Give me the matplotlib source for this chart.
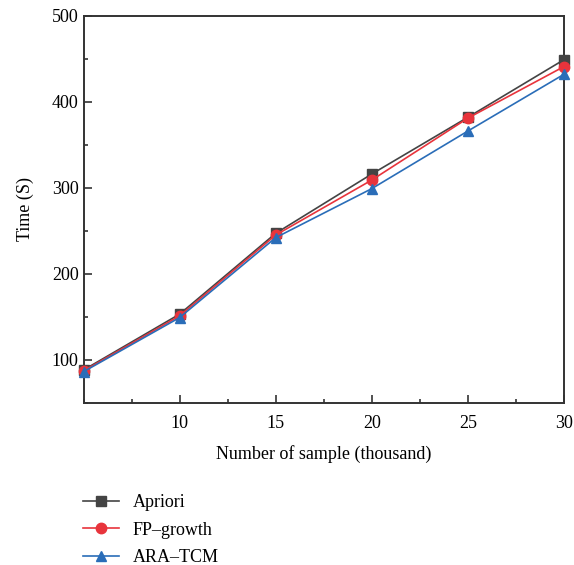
import matplotlib
matplotlib.use("Agg")
import matplotlib.pyplot as plt
from matplotlib.ticker import MultipleLocator

samples = [5, 10, 15, 20, 25, 30]
apriori = [88, 153, 247, 316, 382, 449]
fp_growth = [87, 151, 245, 309, 381, 441]
ara_tcm = [86, 149, 242, 299, 366, 432]

plt.rcParams['font.family'] = ['Liberation Serif', 'DejaVu Serif']
plt.rcParams['font.size'] = 13

fig = plt.figure(figsize=(5.74, 5.65), dpi=100)
ax = fig.add_axes([0.1455, 0.2873, 0.8371, 0.6847])

ax.plot(samples, apriori, color='#444444', marker='s', markersize=6.5, lw=1.2,
        label='Apriori', clip_on=False, zorder=3)
ax.plot(samples, fp_growth, color='#e8343c', marker='o', markersize=7.5, lw=1.2,
        label='FP\u2013growth', clip_on=False, zorder=4)
ax.plot(samples, ara_tcm, color='#2a6db8', marker='^', markersize=7.5, lw=1.2,
        label='ARA\u2013TCM', clip_on=False, zorder=5)

ax.set_xlim(5, 30)
ax.set_ylim(50, 500)
ax.set_xticks([10, 15, 20, 25, 30])
ax.xaxis.set_minor_locator(MultipleLocator(2.5))
ax.set_yticks([100, 200, 300, 400, 500])
ax.yaxis.set_minor_locator(MultipleLocator(50))
ax.tick_params(which='both', direction='in', width=1.2, color='#333333')
ax.tick_params(which='major', length=6)
ax.tick_params(which='minor', length=3)
ax.tick_params(axis='x', which='major', pad=9)
for s in ax.spines.values():
    s.set_linewidth(1.4)
    s.set_color('#333333')

ax.set_xlabel('Number of sample (thousand)', labelpad=9)
ax.set_ylabel('Time (S)', labelpad=13)

fig.legend(loc='upper left', bbox_to_anchor=(0.116, 0.154), frameon=False,
           handlelength=2.0, labelspacing=0.58, handletextpad=0.75)

fig.savefig('out.png', dpi=100)
